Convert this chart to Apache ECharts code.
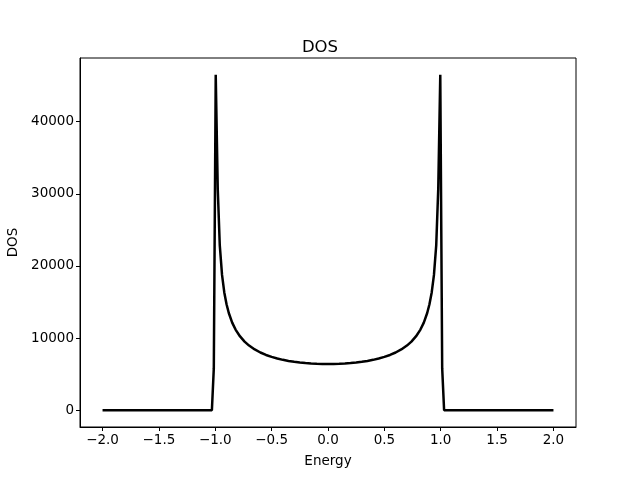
<!DOCTYPE html>
<html>
<head>
<meta charset="utf-8">
<script src="https://cdn.jsdelivr.net/npm/echarts@6/dist/echarts.min.js"></script>
<style>html,body{margin:0;padding:0;background:#fff;}#c{width:640px;height:480px;}</style>
</head>
<body>
<div id="c"></div>
<script>
// Energy grid (symmetric half, positive side) and DOS values
const energyHalf = [0, 0.05, 0.1, 0.15, 0.2, 0.25, 0.3, 0.35, 0.4, 0.45, 0.5, 0.55, 0.6, 0.65, 0.7, 0.74, 0.78, 0.82, 0.85, 0.88, 0.9, 0.92, 0.94, 0.96, 0.978, 0.996, 1.013, 1.03, 2.0];
const dosHalf    = [6400, 6408, 6432, 6473, 6532, 6610, 6709, 6833, 6983, 7167, 7390, 7663, 8000, 8422, 8962, 9515, 10227, 11181, 12149, 13474, 14683, 16330, 18757, 22857, 30681, 46500, 5800, 0, 0];
const xTicks = [-2.0, -1.5, -1.0, -0.5, 0.0, 0.5, 1.0, 1.5, 2.0];
const yTicks = [0, 10000, 20000, 30000, 40000];

const pts = [];
for (let i = energyHalf.length - 1; i > 0; i--) pts.push([-energyHalf[i], dosHalf[i]]);
for (let i = 0; i < energyHalf.length; i++) pts.push([energyHalf[i], dosHalf[i]]);

const font = 'DejaVu Sans';
const chart = echarts.init(document.getElementById('c'), null, {renderer: 'canvas'});
chart.setOption({
  animation: false,
  title: {text: 'DOS', left: 'center', top: 34, textStyle: {fontFamily: font, fontSize: 16.5, fontWeight: 'normal', color: '#000'}},
  grid: {left: 80, right: 64, top: 58, bottom: 53, show: true, borderColor: '#000', borderWidth: 1,
    containLabel: false, outerBoundsMode: 'none'},
  xAxis: {
    type: 'value', min: -2.2, max: 2.2,
    name: 'Energy', nameLocation: 'middle', nameGap: 27,
    nameTextStyle: {fontFamily: font, fontSize: 13.5, color: '#000'},
    axisLine: {show: true, onZero: false, lineStyle: {color: '#000', width: 1}},
    axisTick: {show: true, inside: false, length: 4, customValues: xTicks, lineStyle: {color: '#000'}},
    axisLabel: {customValues: xTicks, margin: 6, fontFamily: font, fontSize: 13.5, color: '#000',
      formatter: v => v.toFixed(1).replace('-', '\u2212')},
    splitLine: {show: false}
  },
  yAxis: {
    type: 'value', min: -2325, max: 48825,
    name: 'DOS', nameLocation: 'middle', nameGap: 58,
    nameTextStyle: {fontFamily: font, fontSize: 13.5, color: '#000'},
    axisLine: {show: true, onZero: false, lineStyle: {color: '#000', width: 1}},
    axisTick: {show: true, inside: false, length: 4, customValues: yTicks, lineStyle: {color: '#000'}},
    axisLabel: {customValues: yTicks, margin: 6, fontFamily: font, fontSize: 13.5, color: '#000',
      formatter: v => String(v)},
    splitLine: {show: false}
  },
  series: [{
    type: 'line', data: pts, showSymbol: false, smooth: false,
    lineStyle: {color: '#000', width: 2.5}
  }]
});
</script>
</body>
</html>
